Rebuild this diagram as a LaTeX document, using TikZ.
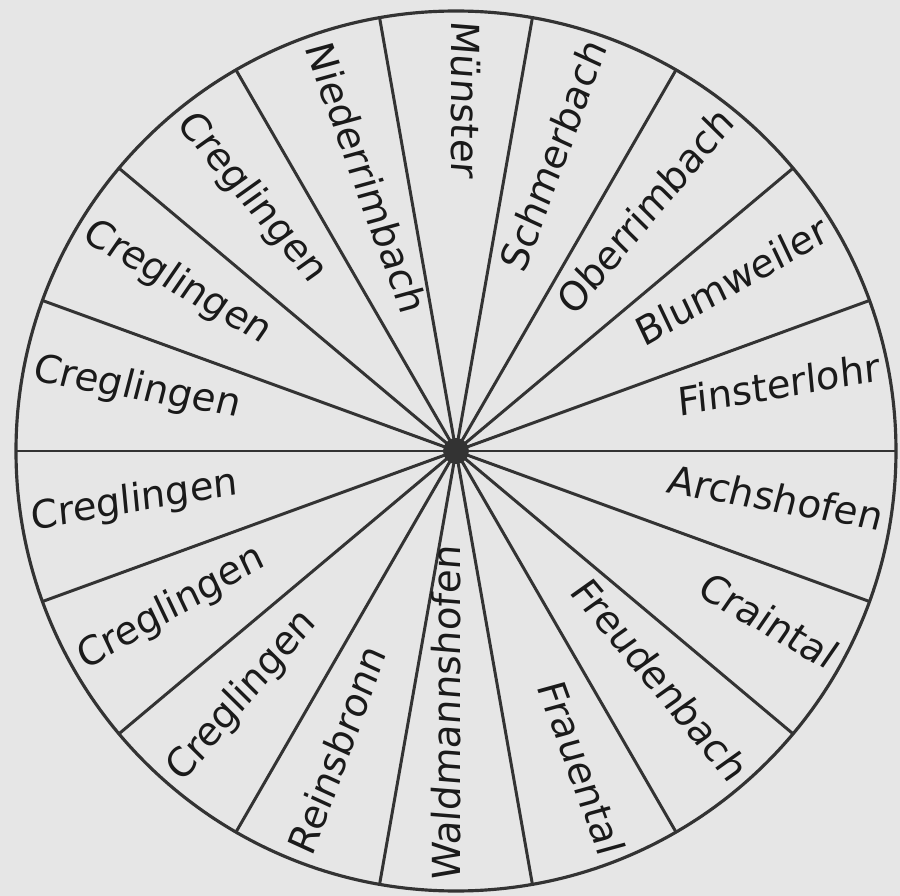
\documentclass[tikz,border=0pt]{standalone}
\usepackage{fontspec}
\setmainfont{DejaVu Sans}[FakeSlant=0.08]
\usetikzlibrary{calc}
\usepackage{xcolor}
\definecolor{paper}{HTML}{E6E6E6}
\definecolor{inkline}{HTML}{333333}
\definecolor{inktext}{HTML}{1A1A1A}

\begin{document}
\begin{tikzpicture}[x=1cm, y=1cm,
  rimlabel/.style={text=inktext, inner sep=0pt, text height=0.74em, text depth=0.22em,
    font=\fontsize{22}{26}\selectfont},
  outlabel/.style={rimlabel, anchor=east},
  inlabel/.style={rimlabel, anchor=west}]

  % Paper background
  \fill[paper] (-9.12, -8.90) rectangle (8.88, 9.02);
  \useasboundingbox (-9.12, -8.90) rectangle (8.88, 9.02);

  % Wheel rim
  \draw[inkline, line width=1.8pt] (0, 0) circle (8.8);

  % Spokes (one diameter every 20 degrees)
  \draw[inkline, line width=1.7pt] (0:8.8) -- (180:8.8);
  \draw[inkline, line width=1.7pt] (20:8.8) -- (200:8.8);
  \draw[inkline, line width=1.7pt] (40:8.8) -- (220:8.8);
  \draw[inkline, line width=1.7pt] (60:8.8) -- (240:8.8);
  \draw[inkline, line width=1.7pt] (80:8.8) -- (260:8.8);
  \draw[inkline, line width=1.7pt] (100:8.8) -- (280:8.8);
  \draw[inkline, line width=1.7pt] (120:8.8) -- (300:8.8);
  \draw[inkline, line width=1.7pt] (140:8.8) -- (320:8.8);
  \draw[inkline, line width=1.7pt] (160:8.8) -- (340:8.8);

  % Hub
  \fill[inkline] (0, 0) circle (0.26);

  % Right half: names end at the rim
  \node[outlabel, rotate=70] (schmerbach) at (70:8.62) {Schmerbach};
  \node[outlabel, rotate=50] (oberrimbach) at (50:8.62) {Oberrimbach};
  \node[outlabel, rotate=30] (blumweiler) at (30:8.62) {Blumweiler};
  \node[outlabel, rotate=10] (finsterlohr) at (10:8.62) {Finsterlohr};
  \node[outlabel, rotate=-10] (archshofen) at (-10:8.62) {Archshofen};
  \node[outlabel, rotate=-30] (craintal) at (-30:8.62) {Craintal};
  \node[outlabel, rotate=-50] (freudenbach) at (-50:8.62) {Freudenbach};
  \node[outlabel, rotate=-70] (frauental) at (-70:8.62) {Frauental};

  % Left half: names start at the rim
  \node[inlabel, rotate=90] (waldmannshofen) at (-90:8.62) {Waldmannshofen};
  \node[inlabel, rotate=70] (reinsbronn) at (-110:8.62) {Reinsbronn};
  \node[inlabel, rotate=50] (creglingenA) at (-130:8.62) {Creglingen};
  \node[inlabel, rotate=30] (creglingenB) at (-150:8.62) {Creglingen};
  \node[inlabel, rotate=10] (creglingenC) at (-170:8.62) {Creglingen};
  \node[inlabel, rotate=-10] (creglingenD) at (170:8.62) {Creglingen};
  \node[inlabel, rotate=-30] (creglingenE) at (150:8.62) {Creglingen};
  \node[inlabel, rotate=-50] (creglingenF) at (130:8.62) {Creglingen};
  \node[inlabel, rotate=-70] (niederrimbach) at (110:8.62) {Niederrimbach};
  \node[inlabel, rotate=-90] (muenster) at (90:8.62) {Münster};

\end{tikzpicture}
\end{document}
